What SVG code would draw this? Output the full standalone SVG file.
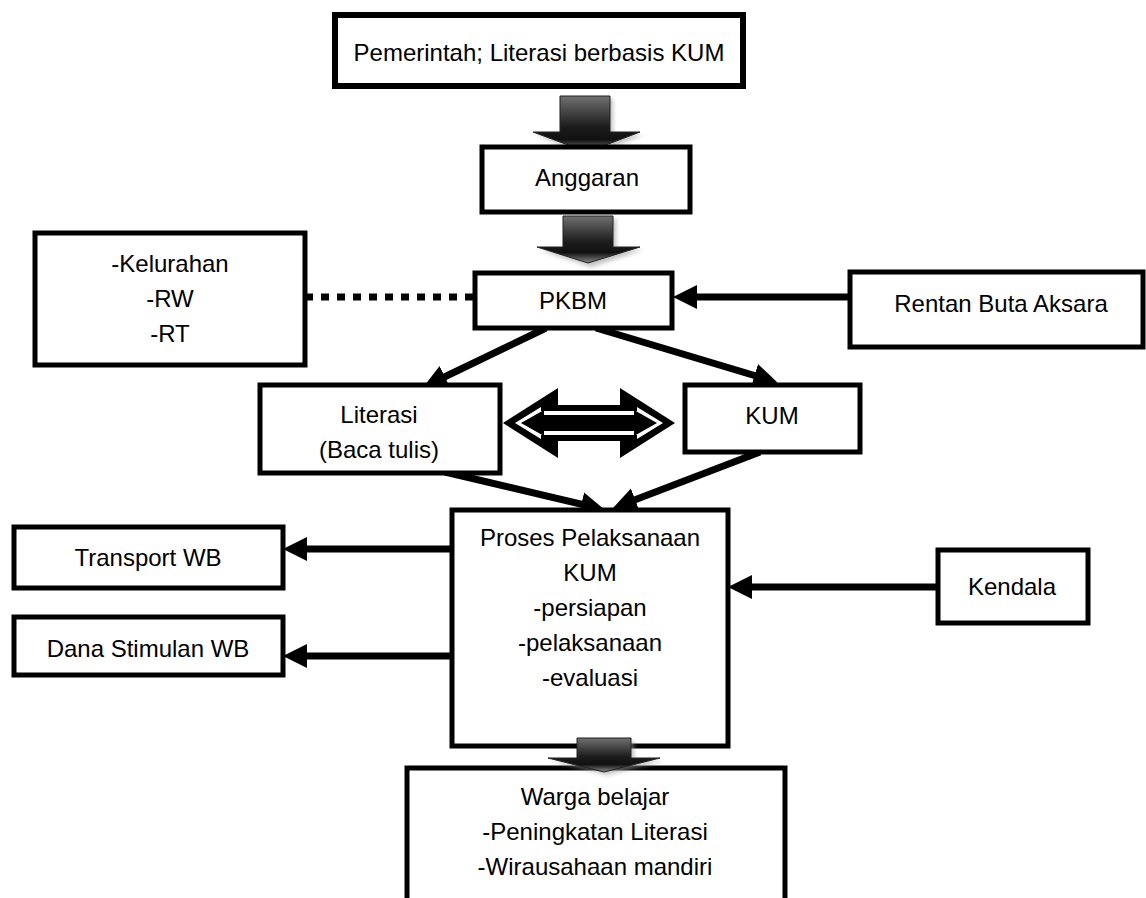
<svg xmlns="http://www.w3.org/2000/svg" width="1146" height="898" viewBox="0 0 1146 898">
<defs>
<style>
.box{fill:#fff;stroke:#000;stroke-width:5}
.t{font-family:"Liberation Sans",Arial,sans-serif;font-size:24px;fill:#000;text-anchor:middle}
.c{stroke:#000;stroke-width:7;fill:none}
.blk{fill:url(#bg);stroke:#222;stroke-width:1}
.sh{fill:#999;opacity:.6;filter:url(#blur)}
</style>
<linearGradient id="bg" x1="0" y1="0" x2="0" y2="1">
<stop offset="0" stop-color="#707070"/>
<stop offset="0.55" stop-color="#1c1c1c"/>
<stop offset="0.78" stop-color="#111"/>
<stop offset="1" stop-color="#8a8a8a"/>
</linearGradient>
<filter id="blur" x="-20%" y="-20%" width="140%" height="140%"><feGaussianBlur stdDeviation="2"/></filter>
<marker id="ah" markerUnits="userSpaceOnUse" markerWidth="26" markerHeight="26" viewBox="0 0 26 24" refX="12" refY="12" orient="auto">
<path d="M0,0 L24,12 L0,24 Z" fill="#000"/>
</marker>
</defs>

<g id="connectors">
<line class="c" x1="305" y1="297" x2="473" y2="297" stroke-dasharray="8 8"/>
<line class="c" x1="848" y1="297" x2="685" y2="297" marker-end="url(#ah)"/>
<line class="c" x1="546" y1="328" x2="434" y2="382" marker-end="url(#ah)"/>
<line class="c" x1="596" y1="328" x2="766" y2="379" marker-end="url(#ah)"/>
<line class="c" x1="445" y1="472" x2="593" y2="507" marker-end="url(#ah)"/>
<line class="c" x1="760" y1="452" x2="624" y2="504" marker-end="url(#ah)"/>
<line class="c" x1="450" y1="549" x2="295" y2="549" marker-end="url(#ah)"/>
<line class="c" x1="450" y1="656" x2="295" y2="656" marker-end="url(#ah)"/>
<line class="c" x1="936" y1="587" x2="740" y2="587" marker-end="url(#ah)"/>
</g>

<g id="node-pemerintah">
<rect class="box" x="335" y="15" width="408" height="71" style="stroke-width:6"/>
<text class="t" x="539" y="61">Pemerintah; Literasi berbasis KUM</text>
</g>

<g id="block-arrow-1">
<polygon class="sh" points="563,99 613,99 613,135 643,135 590,155 536,135 563,135"/>
<polygon class="blk" points="560,96 610,96 610,132 640,132 587,152 533,132 560,132"/>
</g>

<g id="node-anggaran">
<rect class="box" x="482" y="147" width="208" height="65"/>
<text class="t" x="587" y="186">Anggaran</text>
</g>

<g id="block-arrow-2">
<polygon class="sh" points="566,219 616,219 616,250 643,250 591,267 540,250 566,250"/>
<polygon class="blk" points="563,216 613,216 613,247 640,247 588,263 537,247 563,247"/>
</g>

<g id="node-kelurahan">
<rect class="box" x="35" y="233" width="270" height="132"/>
<text class="t" x="170" y="272">-Kelurahan</text>
<text class="t" x="170" y="307">-RW</text>
<text class="t" x="170" y="342">-RT</text>
</g>

<g id="node-pkbm">
<rect class="box" x="475" y="273" width="197" height="55"/>
<text class="t" x="573" y="309">PKBM</text>
</g>

<g id="node-rentan">
<rect class="box" x="850" y="272" width="293" height="75"/>
<text class="t" x="1001" y="312">Rentan Buta Aksara</text>
</g>

<g id="node-literasi">
<rect class="box" x="260" y="385" width="240" height="88"/>
<text class="t" x="379" y="423">Literasi</text>
<text class="t" x="379" y="458">(Baca tulis)</text>
</g>

<g id="double-arrow">
<polygon fill="#000" points="503,423 558,388 558,405 620,405 620,388 675,423 620,458 620,441 558,441 558,458"/>
<polygon fill="#fff" points="515,423 541,407 541,411 637,411 637,407 663,423 637,439 637,435 541,435 541,439"/>
<polygon fill="#000" points="521,423 544,410 544,415 634,415 634,410 657,423 634,436 634,431 544,431 544,436"/>
</g>

<g id="node-kum">
<rect class="box" x="685" y="385" width="175" height="67"/>
<text class="t" x="772" y="424">KUM</text>
</g>

<g id="node-proses">
<rect class="box" x="452" y="510" width="276" height="236"/>
<text class="t" x="590" y="546">Proses Pelaksanaan</text>
<text class="t" x="590" y="581">KUM</text>
<text class="t" x="590" y="616">-persiapan</text>
<text class="t" x="590" y="651">-pelaksanaan</text>
<text class="t" x="590" y="686">-evaluasi</text>
</g>

<g id="node-transport">
<rect class="box" x="14" y="527" width="269" height="61"/>
<text class="t" x="148" y="566">Transport WB</text>
</g>

<g id="node-dana">
<rect class="box" x="14" y="617" width="269" height="58"/>
<text class="t" x="148" y="657">Dana Stimulan WB</text>
</g>

<g id="node-kendala">
<rect class="box" x="938" y="550" width="150" height="73"/>
<text class="t" x="1012" y="595">Kendala</text>
</g>

<g id="node-warga">
<path class="box" d="M407,902 L407,768 L785,768 L785,902"/>
<text class="t" x="595" y="805">Warga belajar</text>
<text class="t" x="595" y="840">-Peningkatan Literasi</text>
<text class="t" x="595" y="875">-Wirausahaan mandiri</text>
</g>

<g id="block-arrow-3">
<polygon class="sh" points="580,741 634,741 634,761 663,761 607,775 551,761 580,761"/>
<polygon class="blk" points="577,738 631,738 631,758 660,758 604,772 548,758 577,758"/>
</g>
</svg>
